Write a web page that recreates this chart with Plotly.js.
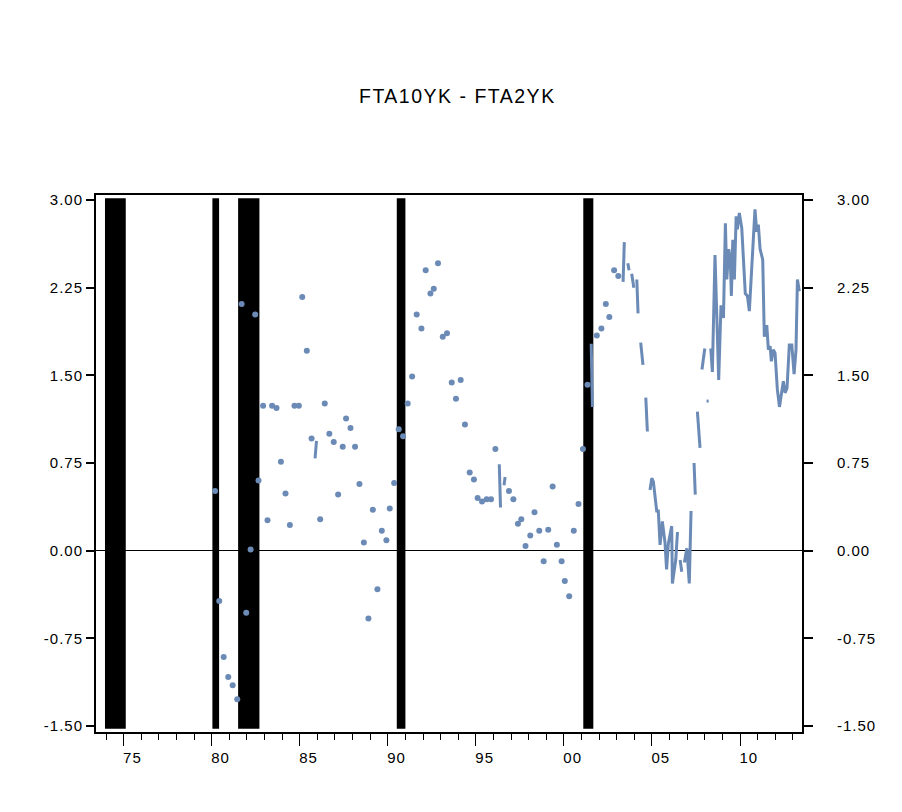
<!DOCTYPE html>
<html>
<head>
<meta charset="utf-8">
<script src="https://cdn.plot.ly/plotly-3.0.1.min.js"></script>
<style>
  body { margin: 0; background: #fff; }
  #chart { width: 902px; height: 812px; }
  #chart .xtick text, #chart .ytick text, #chart .y2tick text, #chart .x2tick text { letter-spacing: 1px; }
  #chart .gtitle { letter-spacing: 1.5px; }
</style>
</head>
<body>
<div id="chart"></div>
<script>
// FTA10YK - FTA2YK, decimal years. null = break in the line
const t = [
  1980.19, null, 1980.43, null, 1980.68, null, 1980.94, null,
  1981.19, null, 1981.45, null, 1981.70, null, 1981.96, null,
  1982.21, null, 1982.47, null, 1982.66, null, 1982.92, null,
  1983.17, null, 1983.43, null, 1983.68, null, 1983.93, null,
  1984.19, null, 1984.44, null, 1984.70, null, 1984.95, null,
  1985.14, null, 1985.40, null, 1985.67, null, 1985.87, 1985.95, null,
  1986.16, null, 1986.42, null, 1986.68, null, 1986.93, null,
  1987.18, null, 1987.44, null, 1987.63, null, 1987.88, null,
  1988.14, null, 1988.39, null, 1988.64, null, 1988.90, null,
  1989.15, null, 1989.41, null, 1989.66, null, 1989.92, null,
  1990.11, null, 1990.36, null, 1990.62, null, 1990.87, null,
  1991.13, null, 1991.38, null, 1991.64, null, 1991.91, null,
  1992.15, null, 1992.42, null, 1992.61, null, 1992.85, null,
  1993.12, null, 1993.36, null, 1993.63, null, 1993.87, null,
  1994.14, null, 1994.38, null, 1994.65, null, 1994.89, null,
  1995.10, null, 1995.35, null, 1995.61, null, 1995.86, null,
  1996.11, null, 1996.33, 1996.40, null, 1996.60, 1996.66, null, 1996.88, null,
  1997.13, null, 1997.39, null, 1997.58, null, 1997.82, null,
  1998.09, null, 1998.33, null, 1998.60, null, 1998.85, null,
  1999.11, null, 1999.36, null, 1999.60, null, 1999.87, null,
  2000.05, null, 2000.30, null, 2000.56, null, 2000.83, null,
  2001.08, null, 2001.34, null, 2001.55, 2001.62, null, 2001.87, null,
  2002.13, null, 2002.38, null, 2002.58, null, 2002.85, null,
  2003.09, null, 2003.36, 2003.43, null, 2003.63, 2003.70, null, 2003.85, 2003.97, null,
  2004.14, 2004.21, null, 2004.36, 2004.49, null, 2004.65, 2004.74, null,
  2004.89, 2004.99, 2005.08, 2005.27, 2005.36, 2005.46, 2005.59, 2005.74, 2005.83, 2005.93,
  2006.12, 2006.16, 2006.35, 2006.45, null, 2006.60, 2006.69, null,
  2006.84, 2006.98, 2007.12, 2007.22, null, 2007.39, 2007.46, null, 2007.58, 2007.73, null,
  2007.84, 2008.00, null, 2008.10, 2008.22, null,
  2008.34, 2008.43, 2008.58, 2008.79, 2008.92, 2009.06, 2009.17, 2009.25, 2009.36, 2009.45,
  2009.51, 2009.59, 2009.68, 2009.78, 2009.85, 2009.96, 2010.10, 2010.19, 2010.30, 2010.42,
  2010.53, 2010.67, 2010.85, 2010.95, 2011.04, 2011.14, 2011.29, 2011.38, 2011.52, 2011.61,
  2011.71, 2011.78, 2011.89, 2011.99, 2012.12, 2012.24, 2012.37, 2012.46, 2012.56, 2012.67,
  2012.80, 2012.94, 2013.07, 2013.18, 2013.26, 2013.37
];
const spread = [
  0.51, null, -0.43, null, -0.91, null, -1.08, null,
  -1.15, null, -1.27, null, 2.11, null, -0.53, null,
  0.01, null, 2.02, null, 0.60, null, 1.24, null,
  0.26, null, 1.24, null, 1.22, null, 0.76, null,
  0.49, null, 0.22, null, 1.24, null, 1.24, null,
  2.17, null, 1.71, null, 0.96, null, 0.79, 0.94, null,
  0.27, null, 1.26, null, 1.00, null, 0.93, null,
  0.48, null, 0.89, null, 1.13, null, 1.05, null,
  0.89, null, 0.57, null, 0.07, null, -0.58, null,
  0.35, null, -0.33, null, 0.17, null, 0.09, null,
  0.36, null, 0.58, null, 1.04, null, 0.98, null,
  1.26, null, 1.49, null, 2.02, null, 1.90, null,
  2.40, null, 2.20, null, 2.24, null, 2.46, null,
  1.83, null, 1.86, null, 1.44, null, 1.30, null,
  1.46, null, 1.08, null, 0.67, null, 0.61, null,
  0.45, null, 0.42, null, 0.44, null, 0.44, null,
  0.87, null, 0.74, 0.37, null, 0.56, 0.63, null, 0.51, null,
  0.44, null, 0.23, null, 0.27, null, 0.04, null,
  0.13, null, 0.33, null, 0.17, null, -0.09, null,
  0.18, null, 0.55, null, 0.05, null, -0.09, null,
  -0.26, null, -0.39, null, 0.17, null, 0.40, null,
  0.87, null, 1.42, null, 1.77, 1.23, null, 1.84, null,
  1.90, null, 2.11, null, 2.00, null, 2.40, null,
  2.35, null, 2.30, 2.64, null, 2.46, 2.40, null, 2.37, 2.25, null,
  2.32, 2.03, null, 1.78, 1.59, null, 1.31, 1.02, null,
  0.52, 0.62, 0.59, 0.34, 0.34, 0.05, 0.25, 0.07, -0.16, 0.06,
  0.21, -0.28, -0.08, 0.16, null, -0.08, -0.18, null,
  -0.10, 0.02, -0.28, 0.34, null, 0.75, 0.48, null, 1.19, 0.88, null,
  1.55, 1.73, null, 1.28, 1.28, null,
  1.73, 1.53, 2.53, 1.46, 2.10, 1.99, 2.80, 2.32, 2.58, 2.49,
  2.18, 2.66, 2.32, 2.86, 2.75, 2.89, 2.76, 2.46, 2.20, 2.18,
  2.05, 2.43, 2.92, 2.73, 2.79, 2.58, 2.49, 1.83, 1.93, 1.72,
  1.75, 1.62, 1.72, 1.69, 1.38, 1.23, 1.35, 1.45, 1.35, 1.39,
  1.76, 1.76, 1.51, 1.72, 2.32, 2.22
];

// recession shading, decimal years
const recStart = [1973.94, 1980.04, 1981.50, 1990.51, 2001.10];
const recEnd = [1975.12, 1980.42, 1982.71, 1991.00, 2001.67];

const yTicks = [-1.5, -0.75, 0, 0.75, 1.5, 2.25, 3];
const labelYears = [1975, 1980, 1985, 1990, 1995, 2000, 2005, 2010];

const blue = '#6b8bb6';
const xRange = [1973.43, 2013.52];
const yRange = [-1.551, 3.043];
const axisFont = { family: 'Liberation Sans, Arial, sans-serif', size: 15, color: '#000' };

// single observations are not drawn by a line, so give them their own dots
const lone = spread.map((v, i) => v !== null && spread[i - 1] == null && spread[i + 1] == null);

const data = [
  {
    x: t,
    y: spread,
    mode: 'lines',
    connectgaps: false,
    line: { color: blue, width: 3 },
    hoverinfo: 'skip',
  },
  // same ranges as x/y, only here so the label axis and right axis get drawn
  {
    x: t.filter((_, i) => lone[i]),
    y: spread.filter((_, i) => lone[i]),
    xaxis: 'x2',
    yaxis: 'y2',
    mode: 'markers',
    marker: { symbol: 'circle', size: 6, color: blue },
    hoverinfo: 'skip',
  },
];

const shapes = recStart.map((s, i) => ({
  type: 'rect',
  xref: 'x',
  yref: 'paper',
  x0: s,
  x1: recEnd[i],
  y0: 0.006,
  y1: 0.994,
  fillcolor: '#000',
  line: { width: 0 },
  layer: 'below',
}));

const layout = {
  width: 902,
  height: 812,
  margin: { l: 96, r: 100, t: 195, b: 80 },
  paper_bgcolor: '#fff',
  plot_bgcolor: '#fff',
  showlegend: false,
  title: {
    text: 'FTA10YK - FTA2YK',
    font: { family: 'Liberation Sans, Arial, sans-serif', size: 19.5, color: '#000' },
    xref: 'container',
    x: 0.507,
    xanchor: 'center',
    y: 0.882,
    yanchor: 'middle',
  },
  xaxis: {
    range: xRange,
    tickmode: 'linear',
    tick0: 1975,
    dtick: 5,
    showticklabels: false,
    ticks: 'outside',
    ticklen: 12,
    tickwidth: 1,
    tickcolor: '#000',
    minor: { tickmode: 'linear', tick0: 1974, dtick: 1, ticks: 'outside', ticklen: 6, tickwidth: 1, tickcolor: '#000' },
    showline: true,
    mirror: true,
    linewidth: 2,
    linecolor: '#000',
    showgrid: false,
    zeroline: false,
  },
  xaxis2: {
    overlaying: 'x',
    anchor: 'y',
    side: 'bottom',
    range: xRange,
    tickmode: 'array',
    tickvals: labelYears.map(y => y + 0.5),
    ticktext: labelYears.map(y => String(y % 100).padStart(2, '0')),
    ticks: '',
    ticklabelstandoff: 15,
    tickfont: axisFont,
    showline: false,
    showgrid: false,
    zeroline: false,
  },
  yaxis: {
    range: yRange,
    tickmode: 'array',
    tickvals: yTicks,
    ticktext: yTicks.map(v => v.toFixed(2)),
    ticks: 'outside',
    ticklen: 8,
    tickwidth: 2,
    tickcolor: '#000',
    tickfont: axisFont,
    showline: true,
    mirror: true,
    linewidth: 2,
    linecolor: '#000',
    showgrid: false,
    zeroline: true,
    zerolinecolor: '#000',
    zerolinewidth: 1,
  },
  yaxis2: {
    overlaying: 'y',
    anchor: 'x',
    side: 'right',
    range: yRange,
    tickmode: 'array',
    tickvals: yTicks,
    ticktext: yTicks.map(v => v.toFixed(2)),
    ticks: 'outside',
    ticklen: 10,
    tickwidth: 2,
    tickcolor: '#000',
    tickfont: axisFont,
    ticklabelstandoff: 21,
    showline: false,
    showgrid: false,
    zeroline: false,
  },
  shapes,
};

Plotly.newPlot('chart', data, layout, { displayModeBar: false, staticPlot: true });
</script>
</body>
</html>
